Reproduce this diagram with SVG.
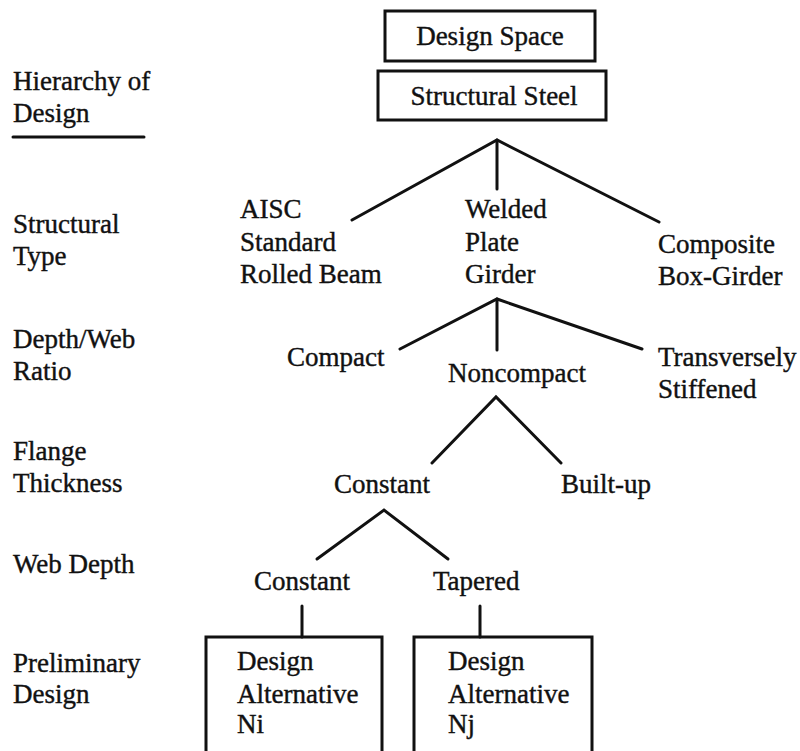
<svg xmlns="http://www.w3.org/2000/svg" width="800" height="751" viewBox="0 0 800 751">
<style>
text{font-family:"Liberation Serif","Times New Roman",serif;font-size:27px;fill:#111;stroke:#111;stroke-width:0.4}
.box{fill:none;stroke:#111;stroke-width:3}
.ln{stroke:#111;stroke-width:3;fill:none;stroke-linecap:round}
</style>
<rect width="800" height="751" fill="#fff"/>
<g id="levels">
<text x="13" y="90">Hierarchy of</text>
<text x="13" y="122">Design</text>
<line x1="13" y1="137" x2="144" y2="137" class="ln"/>
<text x="13" y="233">Structural</text>
<text x="13" y="265">Type</text>
<text x="13" y="348">Depth/Web</text>
<text x="13" y="380">Ratio</text>
<text x="13" y="460">Flange</text>
<text x="13" y="492">Thickness</text>
<text x="13" y="573">Web Depth</text>
<text x="13" y="672">Preliminary</text>
<text x="13" y="703">Design</text>
</g>
<g id="connectors">
<polyline class="ln" points="352,220 497,140 659,222"/>
<line class="ln" x1="497" y1="140" x2="497" y2="189"/>
<polyline class="ln" points="400,349 497,299 642,349"/>
<line class="ln" x1="497" y1="299" x2="497" y2="350"/>
<polyline class="ln" points="432,463 496,397 561,463"/>
<polyline class="ln" points="317,559 384,510 448,559"/>
<line class="ln" x1="302" y1="606" x2="302" y2="637"/>
<line class="ln" x1="480" y1="606" x2="480" y2="637"/>
</g>
<g id="design-space"><rect class="box" x="385" y="11" width="210" height="50"/><text x="490" y="45" text-anchor="middle">Design Space</text></g>
<g id="structural-steel"><rect class="box" x="378" y="71" width="228" height="49"/><text x="494" y="105" text-anchor="middle">Structural Steel</text></g>
<g id="aisc"><text x="240" y="218">AISC</text><text x="240" y="251">Standard</text><text x="240" y="283">Rolled Beam</text></g>
<g id="welded"><text x="465" y="218">Welded</text><text x="465" y="251">Plate</text><text x="465" y="283">Girder</text></g>
<g id="composite"><text x="658" y="253">Composite</text><text x="658" y="285">Box-Girder</text></g>
<g id="compact"><text x="287" y="366">Compact</text></g>
<g id="noncompact"><text x="448" y="382">Noncompact</text></g>
<g id="transversely"><text x="658" y="366">Transversely</text><text x="658" y="398">Stiffened</text></g>
<g id="flange-constant"><text x="334" y="493">Constant</text></g>
<g id="built-up"><text x="561" y="493">Built-up</text></g>
<g id="web-constant"><text x="254" y="590">Constant</text></g>
<g id="tapered"><text x="433" y="590">Tapered</text></g>
<g id="alt-ni"><rect class="box" x="206" y="637" width="176" height="116"/><text x="237" y="670">Design</text><text x="237" y="703">Alternative</text><text x="237" y="733">Ni</text></g>
<g id="alt-nj"><rect class="box" x="414" y="637" width="178" height="116"/><text x="448" y="670">Design</text><text x="448" y="703">Alternative</text><text x="448" y="733">Nj</text></g>
</svg>
